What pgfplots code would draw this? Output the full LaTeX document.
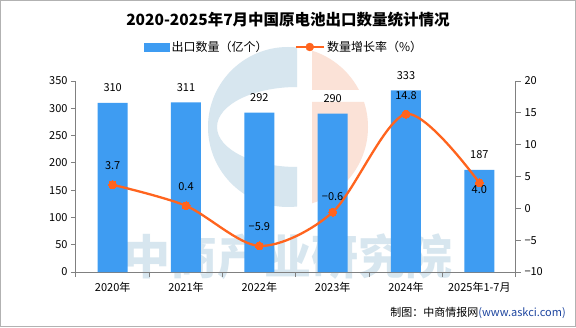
\documentclass[border=0pt]{standalone}
\usepackage{pgfplots}
\pgfplotsset{compat=1.18}
\usepackage{pgfplotstable}
\usepackage{fontspec}
\setmainfont{Noto Sans CJK SC}
\definecolor{barblue}{RGB}{62,156,242}
\definecolor{lineorange}{RGB}{255,100,30}
\definecolor{wmblue}{RGB}{215,230,239}
\definecolor{wmorange}{RGB}{251,226,215}
\definecolor{axisgray}{RGB}{128,128,128}
\definecolor{urlblue}{RGB}{30,70,160}
\pgfplotstableread{
x y
0 310
1 311
2 292
3 290
4 333
5 187
}\bartable
\pgfplotstableread{
x y s l
0 3.7 19 3.7
1 0.4 19 0.4
2 -5.9 19 −5.9
3 -0.6 16 −0.6
4 14.8 19 14.8
5 4.0 -7 4.0
}\ratetable
\begin{document}
\begin{tikzpicture}[x=1pt,y=1pt]
\useasboundingbox (0,0) rectangle (576,327);
\fill[white] (0,0) rectangle (576,327);
\draw[gray!60, line width=1pt] (0.5,0.5) rectangle (575.5,326.5);
% watermark logo
\begin{scope}
\clip (200,110) rectangle (297,290);
\fill[wmblue, even odd rule] (288,200) circle (80) (297,200) ellipse (80 and 40);
\end{scope}
\begin{scope}
\clip (312,110) rectangle (380,225) (312,237) rectangle (380,290);
\fill[wmorange] (288,200) circle (80);
\end{scope}
\node[wmblue, font=\bfseries\fontsize{47}{47}\selectfont] at (288,70) {中商产业研究院};
% title
\node[font=\bfseries\fontsize{15.5}{15.5}\selectfont] at (288,307) {2020-2025年7月中国原电池出口数量统计情况};
% source
\node[anchor=east, font=\fontsize{11}{11}\selectfont, inner sep=0pt] at (566,14) {制图：中商情报网\textcolor{urlblue}{(www.askci.com)}};
\begin{axis}[
  at={(76pt,55pt)}, anchor=south west, scale only axis,
  width=440pt, height=191pt,
  xmin=-0.5, xmax=5.5, ymin=0, ymax=350,
  ytick={0,50,...,350},
  xtick={0,...,5},
  xticklabels={2020年,2021年,2022年,2023年,2024年,2025年1-7月},
  minor xtick={-0.5,0.5,...,5.5},
  major x tick style={draw=none},
  axis x line*=bottom, axis y line*=left,
  axis line style={axisgray, -, line width=1pt},
  tick style={axisgray, line width=1pt},
  tick align=outside,
  major tick length=5pt, minor tick length=5pt,
  ticklabel style={font=\fontsize{11}{11}\selectfont, black},
  xticklabel style={yshift=-2pt},
  /pgf/number format/assume math mode=true,
  clip=false,
  ybar, bar width=30pt,
]
\addplot[fill=barblue, draw=none,
  nodes near coords,
  every node near coord/.append style={font=\fontsize{11}{11}\selectfont, black, anchor=center, yshift=15pt},
] table[x=x,y=y] {\bartable};
\end{axis}
\begin{axis}[
  at={(76pt,55pt)}, anchor=south west, scale only axis,
  width=440pt, height=191pt,
  xmin=-0.5, xmax=5.5, ymin=-10, ymax=20,
  ytick={-10,-5,...,20},
  yticklabels={−10,−5,0,5,10,15,20},
  axis y line*=right, axis x line=none,
  axis line style={axisgray, -, line width=1pt},
  tick style={axisgray, line width=1pt},
  tick align=outside,
  major tick length=5pt,
  ticklabel style={font=\fontsize{11}{11}\selectfont, black},
  /pgf/number format/assume math mode=true,
  clip=false,
  legend columns=2,
  legend style={at={(0.473,1.178)}, anchor=center, draw=none, fill=none,
    font=\fontsize{12}{12}\selectfont,
    /tikz/every even column/.append style={column sep=25pt}},
]
\addlegendimage{legend image code/.code={\fill[barblue] (0pt,-4pt) rectangle (25pt,4pt);}}
\addlegendentry{出口数量（亿个）}
\addlegendimage{legend image code/.code={\draw[lineorange,line width=2.5pt] (0pt,0pt) -- (28pt,0pt); \fill[lineorange] (14pt,0pt) circle (4pt);}}
\addlegendentry{数量增长率（\%）}
\addplot[lineorange, line width=2.3pt, smooth, mark=*, mark size=4pt,
  mark options={fill=lineorange, draw=lineorange, line width=0pt},
  forget plot,
  point meta=explicit symbolic,
  visualization depends on={\thisrow{s} \as \myshift},
  nodes near coords,
  every node near coord/.append style={font=\fontsize{11}{11}\selectfont, black, anchor=center, yshift=\myshift*1pt},
] table[x=x,y=y,meta=l] {\ratetable};
\end{axis}
\end{tikzpicture}
\end{document}
